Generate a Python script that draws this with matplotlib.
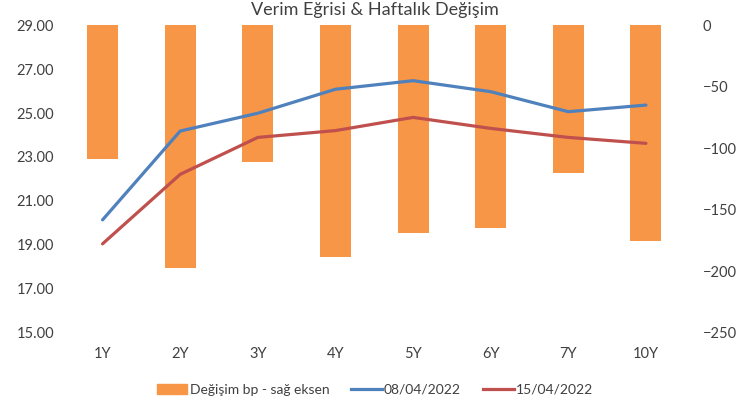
import matplotlib
matplotlib.use("Agg")
import matplotlib.pyplot as plt
import matplotlib.patches as mpatches
from matplotlib.lines import Line2D

plt.rcParams['font.family'] = ['Lato', 'DejaVu Sans']

vade = ["1Y", "2Y", "3Y", "4Y", "5Y", "6Y", "7Y", "10Y"]
degisim_bp = [-109, -197, -111, -188, -169, -165, -120, -175]
faiz_0804 = [20.14, 24.18, 24.99, 26.08, 26.47, 25.97, 25.06, 25.36]
faiz_1504 = [19.05, 22.21, 23.89, 24.20, 24.80, 24.30, 23.89, 23.62]

orange = "#F79646"
blue = "#4F81BD"
red = "#C0504D"
txt = "#404040"

fig = plt.figure(figsize=(7.5, 4.04), dpi=100)
ax = fig.add_axes([0.085, 0.176, 0.828, 0.762])
ax2 = ax.twinx()

x = list(range(len(vade)))
ax2.bar(x, degisim_bp, width=0.4, color=orange, zorder=1)
ax2.set_ylim(-250, 0)
ax2.set_yticks([0, -50, -100, -150, -200, -250])

ax.set_zorder(ax2.get_zorder() + 1)
ax.patch.set_visible(False)
ax.plot(x, faiz_0804, color=blue, lw=2.3, solid_capstyle="round")
ax.plot(x, faiz_1504, color=red, lw=2.3, solid_capstyle="round")
ax.set_ylim(15, 29)
ax.set_yticks([15, 17, 19, 21, 23, 25, 27, 29])
ax.set_yticklabels(["%.2f" % v for v in [15, 17, 19, 21, 23, 25, 27, 29]])
ax.set_xlim(-0.5, 7.5)
ax.set_xticks(x)
ax.set_xticklabels(vade)

for a in (ax, ax2):
    for s in a.spines.values():
        s.set_visible(False)
    a.tick_params(length=0, labelsize=10.5, colors=txt)
ax.tick_params(axis="y", pad=7)
ax.tick_params(axis="x", pad=10)
ax2.tick_params(axis="y", pad=13)

fig.text(0.5, 0.975, "Verim Eğrisi & Haftalık Değişim", ha="center", va="center",
         fontsize=13, color=txt)

handles = [mpatches.Patch(color=orange, label="Değişim bp - sağ eksen"),
           Line2D([], [], color=blue, lw=2.3, label="08/04/2022"),
           Line2D([], [], color=red, lw=2.3, label="15/04/2022")]
fig.legend(handles=handles, loc="center", bbox_to_anchor=(0.5, 0.035), ncol=3,
           frameon=False, fontsize=10, labelcolor=txt, handlelength=2.2,
           handletextpad=0.15, columnspacing=1.6)

fig.savefig("out.png", dpi=100)
